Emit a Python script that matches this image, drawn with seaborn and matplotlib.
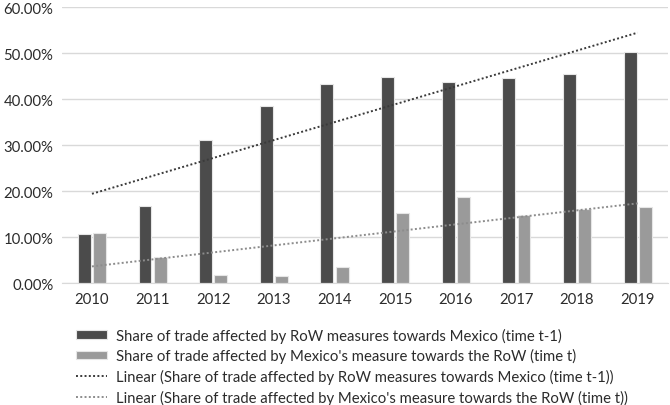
import numpy as np
import pandas as pd
import seaborn as sns
import matplotlib.pyplot as plt
from matplotlib.ticker import PercentFormatter

# values (percent)
years = ['2010', '2011', '2012', '2013', '2014', '2015', '2016', '2017', '2018', '2019']
row_to_mexico = [10.6, 16.8, 31.2, 38.5, 43.3, 44.9, 43.8, 44.6, 45.4, 50.3]
mexico_to_row = [10.9, 5.8, 1.7, 1.6, 3.6, 15.2, 18.8, 14.8, 16.1, 16.5]

label_a = 'Share of trade affected by RoW measures towards Mexico (time t-1)'
label_b = "Share of trade affected by Mexico's measure towards the RoW (time t)"

df = pd.DataFrame({
    'Year': years * 2,
    'Share': row_to_mexico + mexico_to_row,
    'Series': [label_a] * len(years) + [label_b] * len(years),
})

sns.set_style('white')
plt.rcParams['font.family'] = ['Lato', 'DejaVu Sans']

fig = plt.figure(figsize=(6.7, 4.06), dpi=100)
ax = fig.add_axes([0.092, 0.30, 0.905, 0.68])

dark = '#4b4b4b'
light = '#9a9a9a'
txt = '#2b2b2b'

sns.barplot(data=df, x='Year', y='Share', hue='Series', palette=[dark, light],
            width=0.5, gap=0.15, edgecolor='#e6e6e6', linewidth=0.8, ax=ax)

# Excel-style linear trendlines
x = np.arange(len(years))
for vals, col, lab in [(row_to_mexico, '#3a3a3a', 'Linear (' + label_a + ')'),
                       (mexico_to_row, '#8c8c8c', 'Linear (' + label_b + ')')]:
    k, b = np.polyfit(x + 1, vals, 1)
    ax.plot(x, k * (x + 1) + b, linestyle=(0, (1, 1.2)), color=col, linewidth=1.4, label=lab)

ax.set_ylim(0, 60)
ax.set_xlim(-0.5, len(years) - 0.5)
ax.set_yticks(np.arange(0, 61, 10))
ax.yaxis.set_major_formatter(PercentFormatter(decimals=2))
ax.grid(axis='y', color='#d9d9d9', linewidth=1)
ax.set_axisbelow(True)
ax.set_xlabel('')
ax.set_ylabel('')
ax.tick_params(axis='both', labelsize=10.7, colors=txt, length=0, pad=6)
for s in ['top', 'right', 'left']:
    ax.spines[s].set_visible(False)
ax.spines['bottom'].set_color('#d9d9d9')

handles, labels = ax.get_legend_handles_labels()
ax.get_legend().remove()
fig.legend(handles, labels, loc='upper left', bbox_to_anchor=(0.104, 0.205),
           frameon=False, fontsize=10.7, handlelength=2.1, handleheight=0.5,
           labelspacing=0.38, handletextpad=0.65, borderaxespad=0, labelcolor=txt)

fig.savefig('out.png', dpi=100)
